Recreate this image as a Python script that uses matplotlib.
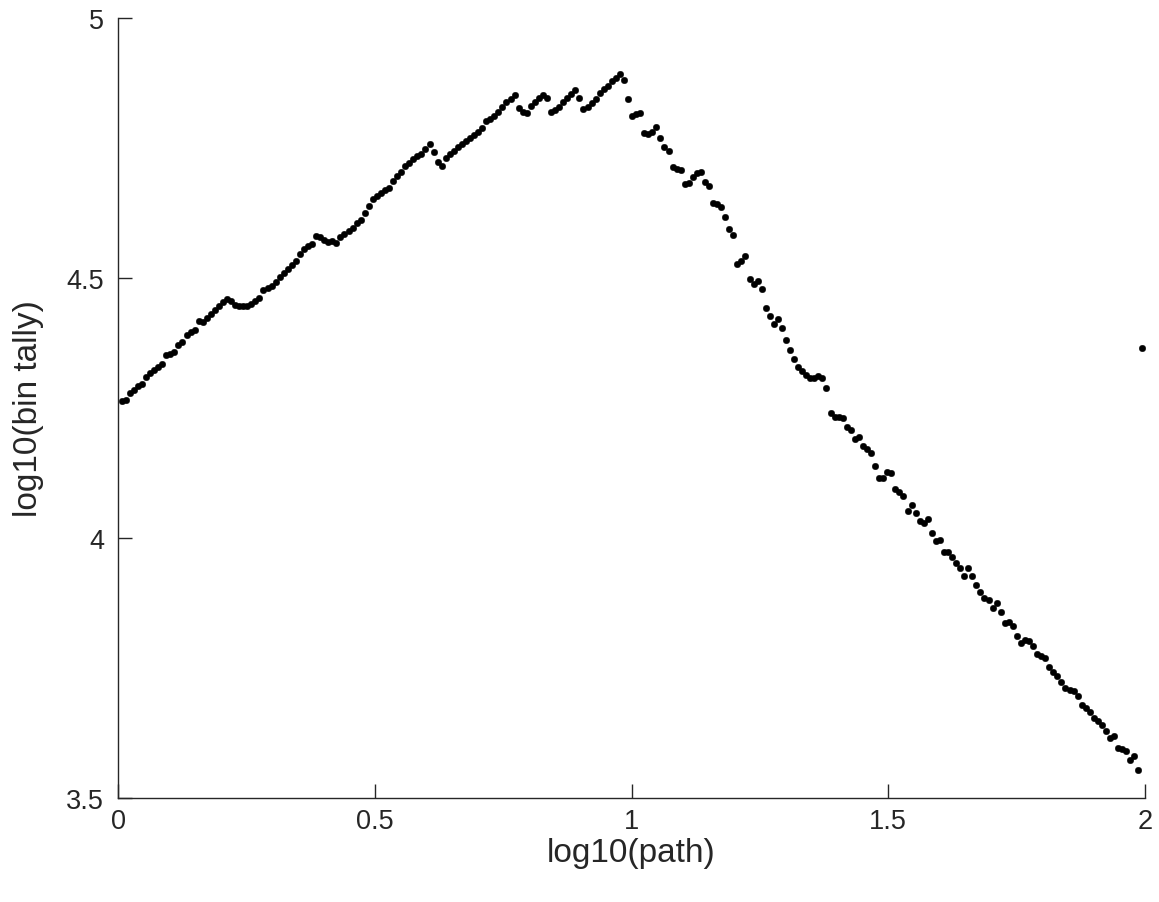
import numpy as np
import matplotlib
matplotlib.use("Agg")
import matplotlib.pyplot as plt

plt.rcParams['font.family'] = ['Liberation Sans', 'DejaVu Sans']

# ---- data (log10 bin tally per log10(path) bin) ----
rise_a = [4.264, 4.266, 4.279, 4.285, 4.292, 4.296, 4.309, 4.317, 4.324, 4.328,
          4.335, 4.351, 4.354, 4.357, 4.371, 4.376, 4.390, 4.397, 4.400, 4.418,
          4.415, 4.424, 4.431, 4.439, 4.446, 4.453, 4.460, 4.456, 4.448, 4.446,
          4.446, 4.447, 4.450, 4.455, 4.461, 4.476, 4.480, 4.485, 4.492, 4.501,
          4.509, 4.517, 4.525, 4.533, 4.546, 4.555, 4.562, 4.565, 4.580, 4.578,
          4.574, 4.569, 4.572, 4.567, 4.578, 4.585, 4.591, 4.597, 4.606, 4.612,
          4.625]
rise_b = [4.639, 4.652, 4.657, 4.663, 4.670, 4.674, 4.687, 4.697, 4.704, 4.715,
          4.721, 4.728, 4.734, 4.738, 4.749, 4.758, 4.743, 4.724, 4.715, 4.730,
          4.738, 4.745, 4.751, 4.758, 4.764, 4.769, 4.775, 4.781, 4.788, 4.802,
          4.806, 4.812, 4.820, 4.828, 4.838, 4.844, 4.851, 4.826, 4.819, 4.817,
          4.831, 4.838, 4.847, 4.851, 4.847, 4.820, 4.824, 4.828, 4.839, 4.847,
          4.854, 4.862, 4.847, 4.825, 4.828, 4.837, 4.844, 4.856, 4.863, 4.870,
          4.878, 4.884, 4.892, 4.881, 4.844]
fall_a = [4.811, 4.815, 4.817, 4.779, 4.777, 4.781, 4.790, 4.769, 4.751, 4.745,
          4.713, 4.710, 4.708, 4.681, 4.683, 4.694, 4.702, 4.704, 4.685, 4.676,
          4.645, 4.642, 4.636, 4.617, 4.594, 4.583, 4.527, 4.533, 4.542, 4.499,
          4.488, 4.495, 4.479, 4.442, 4.426, 4.412, 4.422, 4.403, 4.381, 4.362,
          4.345, 4.328, 4.322, 4.313, 4.307, 4.307, 4.312, 4.307, 4.288]
fall_b = [4.240, 4.232, 4.232, 4.230, 4.213, 4.208, 4.190, 4.194, 4.176, 4.171,
          4.163, 4.138, 4.115, 4.115, 4.126, 4.125, 4.094, 4.089, 4.080, 4.051,
          4.063, 4.049, 4.033, 4.029, 4.037, 4.010, 3.995, 3.997, 3.974, 3.974,
          3.963, 3.952, 3.942, 3.926, 3.942, 3.926, 3.910]
fall_c = [3.897, 3.884, 3.881, 3.865, 3.875, 3.858, 3.837, 3.838, 3.830, 3.811,
          3.798, 3.803, 3.801, 3.792, 3.777, 3.774, 3.769, 3.751, 3.743, 3.734,
          3.724, 3.711, 3.708, 3.705, 3.696, 3.679, 3.674, 3.666, 3.653, 3.649,
          3.640, 3.628, 3.615, 3.620, 3.597, 3.594, 3.591, 3.574, 3.580, 3.554]
last_bin = [4.365]

# bins are evenly spaced in log10(path); first and last bin centres
X_FIRST = 0.0072
X_LAST = 1.995

y_vals = np.array(rise_a + rise_b + fall_a + fall_b + fall_c + last_bin)
x_vals = np.linspace(X_FIRST, X_LAST, len(y_vals))

x_ticks = [0, 0.5, 1, 1.5, 2]
x_tick_labels = ['0', '0.5', '1', '1.5', '2']
y_ticks = [3.5, 4, 4.5, 5]
y_tick_labels = ['3.5', '4', '4.5', '5']

# ---- figure ----
W, H = 1159, 903
fig = plt.figure(figsize=(W / 100, H / 100), dpi=100)
ax = fig.add_axes([118 / W, 1 - 799 / H, (1145 - 118) / W, (799 - 19) / H])

ax.plot(x_vals, y_vals, linestyle='none', marker='o', markersize=4.7,
        markerfacecolor='black', markeredgecolor='black', markeredgewidth=0.3)

axcol = '#262626'
ax.set_xlim(0, 2)
ax.set_ylim(3.5, 5)
ax.set_xticks(x_ticks)
ax.set_xticklabels(x_tick_labels)
ax.set_yticks(y_ticks)
ax.set_yticklabels(y_tick_labels)
for s in ['top', 'right']:
    ax.spines[s].set_visible(False)
for s in ['left', 'bottom']:
    ax.spines[s].set_color(axcol)
    ax.spines[s].set_linewidth(1.0)
ax.tick_params(direction='in', length=10, width=1.0, colors=axcol,
               labelsize=19.5, pad=7, labelcolor=axcol)
ax.tick_params(axis='y', pad=10)
ax.set_xlabel('log10(path)', fontsize=24, color=axcol)
ax.set_ylabel('log10(bin tally)', fontsize=24, color=axcol)
ax.xaxis.set_label_coords(0.5, (799 - 838) / 780)
ax.yaxis.set_label_coords((44 - 118) / 1027, 0.5)

fig.savefig('out.png', dpi=100, facecolor='white')
